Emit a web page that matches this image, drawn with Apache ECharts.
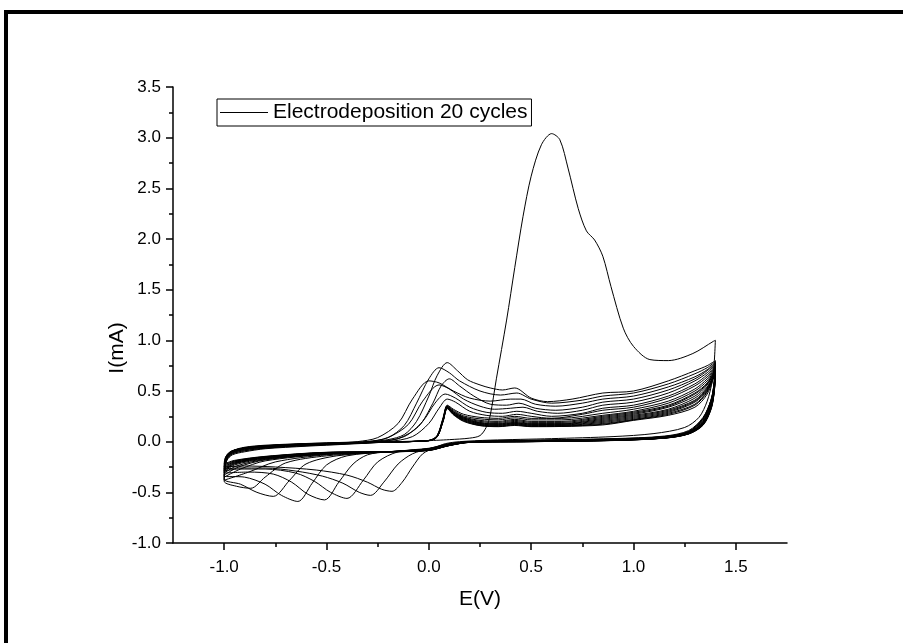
<!DOCTYPE html>
<html lang="en">
  <head>
    <meta charset="UTF-8" />
    <title>Electrodeposition 20 cycles</title>
    <script src="https://cdn.jsdelivr.net/npm/echarts@6/dist/echarts.min.js"></script>
    <style>
      html,
      body {
        margin: 0;
        padding: 0;
        background: #fff;
      }
      #chart {
        width: 903px;
        height: 643px;
      }
    </style>
  </head>
  <body>
    <div id="chart"></div>
    <script>
      // each cycle: [E (V), I (mA)]
      // cycle 1 starts at 0 V, others start at -1.0 V (forward) then return (reverse)
      var cycle01 = [
        [0.0, 0.01], [0.1, 0.02], [0.2, 0.035], [0.25, 0.06], [0.28, 0.14], [0.3, 0.26], [0.33, 0.62],
        [0.38, 1.2], [0.42, 1.72], [0.46, 2.22], [0.5, 2.62], [0.55, 2.93], [0.6, 3.04], [0.64, 2.98],
        [0.68, 2.7], [0.73, 2.3], [0.77, 2.08], [0.81, 1.99], [0.85, 1.83], [0.89, 1.53], [0.95, 1.12],
        [1.0, 0.94], [1.08, 0.81], [1.17, 0.8], [1.29, 0.87], [1.39, 0.99], [1.4, 1.0],
        [1.395, 0.8], [1.385, 0.6], [1.36, 0.4], [1.32, 0.24], [1.25, 0.14], [1.1, 0.08], [0.9, 0.05],
        [0.6, 0.03], [0.3, 0.015], [0.15, 0.0], [0.08, -0.02], [0.03, -0.06], [-0.03, -0.12],
        [-0.08, -0.25], [-0.13, -0.4], [-0.18, -0.49], [-0.23, -0.47], [-0.3, -0.4], [-0.4, -0.33],
        [-0.55, -0.28], [-0.75, -0.25], [-0.9, -0.24], [-1.0, -0.25]
      ];
      var cycle02 = [
        [-1.0, -0.25], [-0.995, -0.2], [-0.985, -0.15], [-0.96, -0.1], [-0.9, -0.06], [-0.8, -0.04],
        [-0.6, -0.02], [-0.4, -0.008], [-0.3, 0.0], [-0.2, 0.02], [-0.12, 0.07], [-0.06, 0.2], [0.0, 0.45],
        [0.04, 0.65], [0.09, 0.78], [0.14, 0.7], [0.19, 0.61], [0.25, 0.56], [0.3, 0.53], [0.36, 0.51],
        [0.42, 0.53], [0.5, 0.43], [0.58, 0.395], [0.7, 0.42], [0.85, 0.48], [1.0, 0.5], [1.17, 0.6],
        [1.3, 0.7], [1.36, 0.75], [1.4, 0.8],
        [1.395, 0.6], [1.38, 0.42], [1.34, 0.24], [1.27, 0.11], [1.15, 0.055], [0.9, 0.03], [0.5, 0.015],
        [0.2, 0.0], [0.1, -0.02], [0.0, -0.07], [-0.08, -0.12], [-0.15, -0.22], [-0.22, -0.4],
        [-0.285, -0.53], [-0.34, -0.5], [-0.42, -0.41], [-0.52, -0.34], [-0.65, -0.29], [-0.8, -0.26],
        [-0.93, -0.26], [-1.0, -0.27]
      ];
      var cycle03 = [
        [-1.0, -0.27], [-0.995, -0.2], [-0.985, -0.14], [-0.96, -0.09], [-0.9, -0.055], [-0.8, -0.035],
        [-0.6, -0.018], [-0.4, -0.006], [-0.3, 0.0], [-0.2, 0.04], [-0.12, 0.16], [-0.06, 0.38], [0.0, 0.62],
        [0.05, 0.73], [0.1, 0.68], [0.15, 0.6], [0.25, 0.5], [0.35, 0.46], [0.43, 0.48], [0.5, 0.42],
        [0.6, 0.38], [0.75, 0.41], [0.85, 0.45], [1.0, 0.48], [1.17, 0.57], [1.3, 0.67], [1.36, 0.73],
        [1.4, 0.79],
        [1.395, 0.6], [1.38, 0.42], [1.34, 0.23], [1.27, 0.1], [1.15, 0.05], [0.9, 0.028], [0.5, 0.012],
        [0.2, 0.0], [0.1, -0.02], [0.0, -0.065], [-0.15, -0.1], [-0.25, -0.2], [-0.32, -0.38],
        [-0.4, -0.56], [-0.48, -0.5], [-0.56, -0.39], [-0.65, -0.31], [-0.8, -0.27], [-0.93, -0.27],
        [-1.0, -0.29]
      ];
      var cycle04 = [
        [-1.0, -0.29], [-0.995, -0.21], [-0.985, -0.15], [-0.96, -0.1], [-0.9, -0.07], [-0.8, -0.05],
        [-0.6, -0.03], [-0.45, -0.015], [-0.35, 0.0], [-0.25, 0.04], [-0.15, 0.18], [-0.08, 0.42],
        [0.0, 0.6], [0.05, 0.58], [0.12, 0.5], [0.2, 0.43], [0.3, 0.4], [0.4, 0.42], [0.45, 0.42],
        [0.52, 0.37], [0.62, 0.35], [0.75, 0.38], [0.85, 0.42], [1.0, 0.45], [1.17, 0.54], [1.3, 0.64],
        [1.36, 0.71], [1.4, 0.78],
        [1.395, 0.6], [1.38, 0.42], [1.34, 0.23], [1.27, 0.1], [1.15, 0.05], [0.9, 0.026], [0.5, 0.01],
        [0.2, 0.0], [0.1, -0.025], [0.0, -0.07], [-0.2, -0.1], [-0.3, -0.13], [-0.37, -0.22],
        [-0.44, -0.4], [-0.51, -0.575], [-0.59, -0.52], [-0.67, -0.4], [-0.76, -0.32], [-0.88, -0.3],
        [-1.0, -0.31]
      ];
      var cycle05 = [
        [-1.0, -0.31], [-0.995, -0.22], [-0.985, -0.16], [-0.96, -0.105], [-0.9, -0.075], [-0.8, -0.05],
        [-0.6, -0.03], [-0.4, -0.015], [-0.25, 0.0], [-0.15, 0.03], [-0.05, 0.15], [0.02, 0.38],
        [0.06, 0.55], [0.1, 0.62], [0.15, 0.55], [0.22, 0.45], [0.3, 0.37], [0.38, 0.36], [0.44, 0.38],
        [0.52, 0.33], [0.62, 0.31], [0.75, 0.34], [0.85, 0.39], [1.0, 0.42], [1.17, 0.51], [1.3, 0.62],
        [1.36, 0.7], [1.4, 0.77],
        [1.395, 0.59], [1.38, 0.41], [1.34, 0.22], [1.27, 0.1], [1.15, 0.048], [0.9, 0.024], [0.5, 0.01],
        [0.2, 0.0], [0.1, -0.025], [0.0, -0.07], [-0.2, -0.1], [-0.4, -0.14], [-0.5, -0.23],
        [-0.57, -0.41], [-0.64, -0.59], [-0.72, -0.53], [-0.8, -0.42], [-0.9, -0.35], [-1.0, -0.34]
      ];
      var cycle06 = [
        [-1.0, -0.34], [-0.995, -0.23], [-0.985, -0.16], [-0.96, -0.11], [-0.9, -0.08], [-0.8, -0.055],
        [-0.6, -0.033], [-0.4, -0.017], [-0.3, 0.0], [-0.2, 0.04], [-0.1, 0.17], [-0.03, 0.4], [0.05, 0.56],
        [0.1, 0.52], [0.17, 0.42], [0.25, 0.35], [0.32, 0.32], [0.4, 0.33], [0.46, 0.34], [0.53, 0.3],
        [0.63, 0.28], [0.75, 0.31], [0.85, 0.36], [1.0, 0.39], [1.17, 0.48], [1.3, 0.6], [1.36, 0.68],
        [1.4, 0.76],
        [1.395, 0.58], [1.38, 0.4], [1.34, 0.21], [1.27, 0.095], [1.15, 0.046], [0.9, 0.022],
        [0.5, 0.008], [0.2, 0.0], [0.1, -0.025], [0.0, -0.07], [-0.2, -0.1], [-0.45, -0.14],
        [-0.6, -0.22], [-0.68, -0.38], [-0.76, -0.54], [-0.84, -0.5], [-0.92, -0.42], [-1.0, -0.37]
      ];
      var cycle07 = [
        [-1.0, -0.37], [-0.995, -0.24], [-0.985, -0.17], [-0.96, -0.12], [-0.9, -0.09], [-0.8, -0.065],
        [-0.6, -0.04], [-0.4, -0.022], [-0.25, 0.0], [-0.12, 0.05], [-0.03, 0.2], [0.03, 0.38],
        [0.08, 0.47], [0.13, 0.43], [0.2, 0.34], [0.28, 0.29], [0.36, 0.28], [0.43, 0.3], [0.5, 0.28],
        [0.6, 0.25], [0.75, 0.28], [0.85, 0.33], [1.0, 0.36], [1.17, 0.45], [1.3, 0.57], [1.36, 0.66],
        [1.4, 0.75],
        [1.395, 0.57], [1.38, 0.39], [1.34, 0.2], [1.27, 0.09], [1.15, 0.044], [0.9, 0.02], [0.5, 0.007],
        [0.2, 0.0], [0.1, -0.028], [0.0, -0.075], [-0.2, -0.1], [-0.5, -0.14], [-0.7, -0.21],
        [-0.8, -0.35], [-0.87, -0.46], [-0.94, -0.44], [-1.0, -0.39]
      ];
      var cycle08 = [
        [-1.0, -0.39], [-0.995, -0.25], [-0.985, -0.18], [-0.96, -0.13], [-0.9, -0.1], [-0.8, -0.07],
        [-0.6, -0.045], [-0.4, -0.025], [-0.2, 0.0], [-0.08, 0.05], [0.0, 0.18], [0.05, 0.33], [0.09, 0.42],
        [0.13, 0.39], [0.2, 0.3], [0.28, 0.26], [0.36, 0.25], [0.43, 0.27], [0.5, 0.25], [0.6, 0.23],
        [0.75, 0.27], [0.85, 0.31], [1.0, 0.34], [1.17, 0.43], [1.3, 0.55], [1.36, 0.64], [1.4, 0.74],
        [1.395, 0.56], [1.38, 0.38], [1.34, 0.2], [1.27, 0.09], [1.15, 0.042], [0.9, 0.018], [0.5, 0.005],
        [0.2, -0.002], [0.1, -0.03], [0.0, -0.075], [-0.2, -0.1], [-0.5, -0.13], [-0.75, -0.2],
        [-0.88, -0.3], [-1.0, -0.38]
      ];
      var cycle09 = [
        [-1.0, -0.38], [-0.995, -0.24], [-0.985, -0.17], [-0.96, -0.12], [-0.9, -0.09], [-0.8, -0.062],
        [-0.6, -0.038], [-0.4, -0.02], [-0.2, -0.004], [0.0, 0.012], [0.04, 0.06], [0.07, 0.24],
        [0.09, 0.36], [0.12, 0.32], [0.17, 0.27], [0.25, 0.24], [0.34, 0.23], [0.42, 0.25], [0.5, 0.23],
        [0.65, 0.23], [0.85, 0.28], [1.0, 0.32], [1.17, 0.4], [1.3, 0.52], [1.36, 0.62], [1.4, 0.73],
        [1.395, 0.55], [1.38, 0.37], [1.34, 0.19], [1.27, 0.088], [1.15, 0.04], [0.9, 0.017],
        [0.5, 0.004], [0.2, -0.003], [0.1, -0.03], [0.0, -0.078], [-0.2, -0.1], [-0.5, -0.125],
        [-0.8, -0.19], [-0.92, -0.27], [-1.0, -0.35]
      ];
      var cycle10 = [
        [-1.0, -0.35], [-0.995, -0.23], [-0.985, -0.16], [-0.96, -0.11], [-0.9, -0.08], [-0.8, -0.055],
        [-0.6, -0.033], [-0.4, -0.018], [-0.2, -0.004], [0.0, 0.012], [0.04, 0.055], [0.07, 0.23],
        [0.09, 0.355], [0.12, 0.31], [0.17, 0.255], [0.25, 0.225], [0.34, 0.215], [0.42, 0.235],
        [0.5, 0.215], [0.65, 0.215], [0.85, 0.26], [1.0, 0.3], [1.17, 0.38], [1.3, 0.5], [1.36, 0.6],
        [1.4, 0.72],
        [1.395, 0.55], [1.38, 0.37], [1.34, 0.19], [1.27, 0.086], [1.15, 0.04], [0.9, 0.016],
        [0.5, 0.004], [0.2, -0.003], [0.1, -0.03], [0.0, -0.078], [-0.2, -0.1], [-0.5, -0.122],
        [-0.8, -0.18], [-0.93, -0.25], [-1.0, -0.33]
      ];
      var cycle11 = [
        [-1.0, -0.33], [-0.995, -0.22], [-0.985, -0.15], [-0.96, -0.1], [-0.9, -0.068], [-0.8, -0.047],
        [-0.6, -0.027], [-0.4, -0.015], [-0.2, -0.004], [0.0, 0.012], [0.04, 0.055], [0.07, 0.23],
        [0.09, 0.35], [0.12, 0.3], [0.17, 0.245], [0.25, 0.21], [0.34, 0.2], [0.42, 0.22], [0.5, 0.2],
        [0.65, 0.2], [0.85, 0.25], [1.0, 0.29], [1.17, 0.36], [1.3, 0.48], [1.36, 0.58], [1.4, 0.72],
        [1.395, 0.54], [1.38, 0.36], [1.34, 0.185], [1.27, 0.085], [1.15, 0.039], [0.9, 0.016],
        [0.5, 0.003], [0.2, -0.004], [0.1, -0.032], [0.0, -0.08], [-0.2, -0.1], [-0.5, -0.12],
        [-0.8, -0.175], [-0.94, -0.24], [-1.0, -0.31]
      ];
      var cycle12 = [
        [-1.0, -0.31], [-0.995, -0.21], [-0.985, -0.145], [-0.96, -0.098], [-0.9, -0.067], [-0.8, -0.046],
        [-0.6, -0.026], [-0.4, -0.015], [-0.2, -0.004], [0.0, 0.011], [0.04, 0.052], [0.07, 0.225],
        [0.09, 0.348], [0.12, 0.295], [0.17, 0.24], [0.25, 0.2], [0.34, 0.19], [0.42, 0.21], [0.5, 0.19],
        [0.65, 0.19], [0.85, 0.24], [1.0, 0.28], [1.17, 0.35], [1.3, 0.47], [1.36, 0.57], [1.4, 0.71],
        [1.395, 0.54], [1.38, 0.36], [1.34, 0.18], [1.27, 0.084], [1.15, 0.038], [0.9, 0.015],
        [0.5, 0.003], [0.2, -0.004], [0.1, -0.033], [0.0, -0.08], [-0.2, -0.1], [-0.5, -0.118],
        [-0.8, -0.17], [-0.95, -0.23], [-1.0, -0.3]
      ];
      var cycle13 = [
        [-1.0, -0.3], [-0.995, -0.21], [-0.985, -0.145], [-0.96, -0.097], [-0.9, -0.066], [-0.8, -0.045],
        [-0.6, -0.026], [-0.4, -0.014], [-0.2, -0.003], [0.0, 0.011], [0.04, 0.05], [0.07, 0.22],
        [0.09, 0.345], [0.12, 0.29], [0.17, 0.235], [0.25, 0.19], [0.34, 0.18], [0.42, 0.2], [0.5, 0.18],
        [0.65, 0.18], [0.85, 0.23], [1.0, 0.27], [1.17, 0.34], [1.3, 0.45], [1.36, 0.56], [1.4, 0.71],
        [1.395, 0.53], [1.38, 0.355], [1.34, 0.18], [1.27, 0.083], [1.15, 0.038], [0.9, 0.015],
        [0.5, 0.002], [0.2, -0.005], [0.1, -0.034], [0.0, -0.082], [-0.2, -0.1], [-0.5, -0.115],
        [-0.8, -0.165], [-0.95, -0.22], [-1.0, -0.29]
      ];
      var cycle14 = [
        [-1.0, -0.29], [-0.995, -0.2], [-0.985, -0.14], [-0.96, -0.096], [-0.9, -0.066], [-0.8, -0.045],
        [-0.6, -0.025], [-0.4, -0.014], [-0.2, -0.003], [0.0, 0.011], [0.04, 0.05], [0.07, 0.22],
        [0.09, 0.342], [0.12, 0.285], [0.17, 0.23], [0.25, 0.185], [0.34, 0.175], [0.42, 0.19],
        [0.5, 0.175], [0.65, 0.175], [0.85, 0.22], [1.0, 0.26], [1.17, 0.32], [1.3, 0.43], [1.36, 0.54],
        [1.4, 0.7],
        [1.395, 0.53], [1.38, 0.35], [1.34, 0.178], [1.27, 0.082], [1.15, 0.037], [0.9, 0.014],
        [0.5, 0.002], [0.2, -0.005], [0.1, -0.035], [0.0, -0.082], [-0.2, -0.1], [-0.5, -0.113],
        [-0.8, -0.162], [-0.95, -0.215], [-1.0, -0.28]
      ];
      var cycle15 = [
        [-1.0, -0.28], [-0.995, -0.2], [-0.985, -0.14], [-0.96, -0.095], [-0.9, -0.065], [-0.8, -0.044],
        [-0.6, -0.025], [-0.4, -0.014], [-0.2, -0.003], [0.0, 0.01], [0.04, 0.048], [0.07, 0.215],
        [0.09, 0.34], [0.12, 0.28], [0.17, 0.225], [0.25, 0.18], [0.34, 0.17], [0.42, 0.185], [0.5, 0.17],
        [0.65, 0.17], [0.85, 0.21], [1.0, 0.25], [1.17, 0.31], [1.3, 0.41], [1.36, 0.53], [1.4, 0.7],
        [1.395, 0.52], [1.38, 0.35], [1.34, 0.175], [1.27, 0.081], [1.15, 0.037], [0.9, 0.014],
        [0.5, 0.002], [0.2, -0.005], [0.1, -0.036], [0.0, -0.084], [-0.2, -0.1], [-0.5, -0.112],
        [-0.8, -0.158], [-0.95, -0.21], [-1.0, -0.27]
      ];
      var cycle16 = [
        [-1.0, -0.27], [-0.995, -0.19], [-0.985, -0.135], [-0.96, -0.094], [-0.9, -0.064], [-0.8, -0.044],
        [-0.6, -0.024], [-0.4, -0.013], [-0.2, -0.003], [0.0, 0.01], [0.04, 0.048], [0.07, 0.212],
        [0.09, 0.337], [0.12, 0.278], [0.17, 0.22], [0.25, 0.175], [0.34, 0.165], [0.42, 0.18],
        [0.5, 0.165], [0.65, 0.165], [0.85, 0.2], [1.0, 0.24], [1.17, 0.3], [1.3, 0.4], [1.36, 0.52],
        [1.4, 0.7],
        [1.395, 0.52], [1.38, 0.345], [1.34, 0.172], [1.27, 0.08], [1.15, 0.036], [0.9, 0.013],
        [0.5, 0.001], [0.2, -0.006], [0.1, -0.036], [0.0, -0.084], [-0.2, -0.1], [-0.5, -0.11],
        [-0.8, -0.155], [-0.95, -0.205], [-1.0, -0.26]
      ];
      var cycle17 = [
        [-1.0, -0.26], [-0.995, -0.19], [-0.985, -0.135], [-0.96, -0.093], [-0.9, -0.063], [-0.8, -0.043],
        [-0.6, -0.024], [-0.4, -0.013], [-0.2, -0.002], [0.0, 0.01], [0.04, 0.046], [0.07, 0.21],
        [0.09, 0.335], [0.12, 0.275], [0.17, 0.215], [0.25, 0.17], [0.34, 0.16], [0.42, 0.175], [0.5, 0.16],
        [0.65, 0.16], [0.85, 0.19], [1.0, 0.23], [1.17, 0.29], [1.3, 0.39], [1.36, 0.51], [1.4, 0.69],
        [1.395, 0.51], [1.38, 0.34], [1.34, 0.17], [1.27, 0.079], [1.15, 0.036], [0.9, 0.013],
        [0.5, 0.001], [0.2, -0.006], [0.1, -0.037], [0.0, -0.085], [-0.2, -0.1], [-0.5, -0.108],
        [-0.8, -0.152], [-0.95, -0.2], [-1.0, -0.25]
      ];
      var cycle18 = [
        [-1.0, -0.25], [-0.995, -0.18], [-0.985, -0.13], [-0.96, -0.092], [-0.9, -0.062], [-0.8, -0.042],
        [-0.6, -0.023], [-0.4, -0.012], [-0.2, -0.002], [0.0, 0.01], [0.04, 0.046], [0.07, 0.207],
        [0.09, 0.332], [0.12, 0.272], [0.17, 0.21], [0.25, 0.165], [0.34, 0.155], [0.42, 0.17],
        [0.5, 0.155], [0.65, 0.155], [0.85, 0.18], [1.0, 0.22], [1.17, 0.28], [1.3, 0.37], [1.36, 0.5],
        [1.4, 0.69],
        [1.395, 0.51], [1.38, 0.335], [1.34, 0.168], [1.27, 0.078], [1.15, 0.035], [0.9, 0.012],
        [0.5, 0.0], [0.2, -0.006], [0.1, -0.038], [0.0, -0.086], [-0.2, -0.1], [-0.5, -0.107],
        [-0.8, -0.15], [-0.95, -0.195], [-1.0, -0.24]
      ];
      var cycle19 = [
        [-1.0, -0.24], [-0.995, -0.18], [-0.985, -0.13], [-0.96, -0.091], [-0.9, -0.062], [-0.8, -0.042],
        [-0.6, -0.023], [-0.4, -0.012], [-0.2, -0.002], [0.0, 0.01], [0.04, 0.045], [0.07, 0.205],
        [0.09, 0.33], [0.12, 0.27], [0.17, 0.205], [0.25, 0.16], [0.34, 0.15], [0.42, 0.165], [0.5, 0.15],
        [0.65, 0.152], [0.85, 0.172], [1.0, 0.215], [1.17, 0.27], [1.3, 0.36], [1.36, 0.49], [1.4, 0.69],
        [1.395, 0.5], [1.38, 0.33], [1.34, 0.165], [1.27, 0.077], [1.15, 0.035], [0.9, 0.012],
        [0.5, 0.0], [0.2, -0.007], [0.1, -0.038], [0.0, -0.086], [-0.2, -0.1], [-0.5, -0.106],
        [-0.8, -0.148], [-0.95, -0.19], [-1.0, -0.23]
      ];
      var cycle20 = [
        [-1.0, -0.23], [-0.995, -0.17], [-0.985, -0.125], [-0.96, -0.09], [-0.9, -0.061], [-0.8, -0.041],
        [-0.6, -0.022], [-0.4, -0.012], [-0.2, -0.002], [0.0, 0.01], [0.04, 0.044], [0.07, 0.2],
        [0.09, 0.325], [0.12, 0.265], [0.17, 0.2], [0.25, 0.158], [0.34, 0.148], [0.42, 0.16],
        [0.5, 0.148], [0.65, 0.15], [0.85, 0.165], [1.0, 0.21], [1.17, 0.26], [1.3, 0.34], [1.36, 0.47],
        [1.4, 0.68],
        [1.395, 0.5], [1.38, 0.325], [1.34, 0.162], [1.27, 0.076], [1.15, 0.034], [0.9, 0.011],
        [0.5, 0.0], [0.2, -0.007], [0.1, -0.039], [0.0, -0.087], [-0.2, -0.1], [-0.5, -0.105],
        [-0.8, -0.145], [-0.95, -0.185], [-1.0, -0.22]
      ];
      // last sweep back to the start potential
      var finalSweep = [
        [-1.0, -0.22], [-0.995, -0.16], [-0.97, -0.1], [-0.9, -0.065], [-0.7, -0.038], [-0.4, -0.015],
        [-0.2, -0.003], [0.0, 0.01]
      ];

      var xMajorTicks = [-1.0, -0.5, 0.0, 0.5, 1.0, 1.5];
      var xMinorTicks = [-0.75, -0.25, 0.25, 0.75, 1.25];
      var seriesName = 'Electrodeposition 20 cycles';

      var cvData = [].concat(
        cycle01, cycle02, cycle03, cycle04, cycle05, cycle06, cycle07, cycle08, cycle09, cycle10,
        cycle11, cycle12, cycle13, cycle14, cycle15, cycle16, cycle17, cycle18, cycle19, cycle20,
        finalSweep
      );

      var font = "'Liberation Sans', Arial, sans-serif";
      var chart = echarts.init(document.getElementById('chart'));
      chart.setOption({
        animation: false,
        backgroundColor: '#fff',
        textStyle: { fontFamily: font, color: '#000' },
        graphic: [
          { type: 'rect', shape: { x: 4, y: 10, width: 899, height: 4 }, style: { fill: '#000' } },
          { type: 'rect', shape: { x: 4, y: 10, width: 4, height: 633 }, style: { fill: '#000' } },
          {
            // y axis title sits a little below the axis centre in the original
            type: 'text',
            x: 117,
            y: 348,
            rotation: Math.PI / 2,
            style: {
              text: 'I(mA)',
              font: '21px ' + font,
              fill: '#000',
              textAlign: 'center',
              textVerticalAlign: 'middle'
            }
          }
        ],
        grid: { left: 173, top: 87, width: 614, height: 456, containLabel: false },
        legend: {
          data: [seriesName],
          left: 217,
          top: 99,
          padding: [3, 4, 3, 3],
          borderColor: '#000',
          borderWidth: 1,
          borderRadius: 0,
          icon: 'rect',
          itemWidth: 48,
          itemHeight: 1,
          itemGap: 5,
          textStyle: { fontSize: 21, color: '#000', fontFamily: font }
        },
        xAxis: [
          {
            type: 'value',
            min: -1.25,
            max: 1.75,
            position: 'bottom',
            name: 'E(V)',
            nameLocation: 'middle',
            nameGap: 46,
            nameTextStyle: { fontSize: 21, color: '#000', fontFamily: font },
            axisLine: { onZero: false, lineStyle: { color: '#000', width: 1.5 } },
            axisTick: { customValues: xMajorTicks, length: 7, lineStyle: { color: '#000', width: 1.5 } },
            axisLabel: {
              customValues: xMajorTicks,
              formatter: function (v) { return v.toFixed(1); },
              fontSize: 17,
              color: '#000',
              margin: 16,
              fontFamily: font
            },
            splitLine: { show: false }
          },
          {
            type: 'value',
            min: -1.25,
            max: 1.75,
            position: 'bottom',
            axisLine: { show: false, onZero: false },
            axisTick: { customValues: xMinorTicks, length: 4, lineStyle: { color: '#000', width: 1.5 } },
            axisLabel: { show: false },
            splitLine: { show: false }
          }
        ],
        yAxis: {
          type: 'value',
          min: -1.0,
          max: 3.5,
          interval: 0.5,
          axisLine: { onZero: false, lineStyle: { color: '#000', width: 1.5 } },
          axisTick: { length: 7, lineStyle: { color: '#000', width: 1.5 } },
          minorTick: { show: true, splitNumber: 2, length: 4, lineStyle: { color: '#000', width: 1.5 } },
          axisLabel: {
            formatter: function (v) { return v.toFixed(1); },
            fontSize: 17,
            color: '#000',
            margin: 12,
            fontFamily: font
          },
          splitLine: { show: false },
          minorSplitLine: { show: false }
        },
        series: [
          {
            name: seriesName,
            type: 'line',
            xAxisIndex: 0,
            data: cvData,
            showSymbol: false,
            symbol: 'none',
            smooth: 0.3,
            lineStyle: { color: '#000', width: 1 },
            itemStyle: { color: '#000' }
          }
        ]
      });
    </script>
  </body>
</html>
